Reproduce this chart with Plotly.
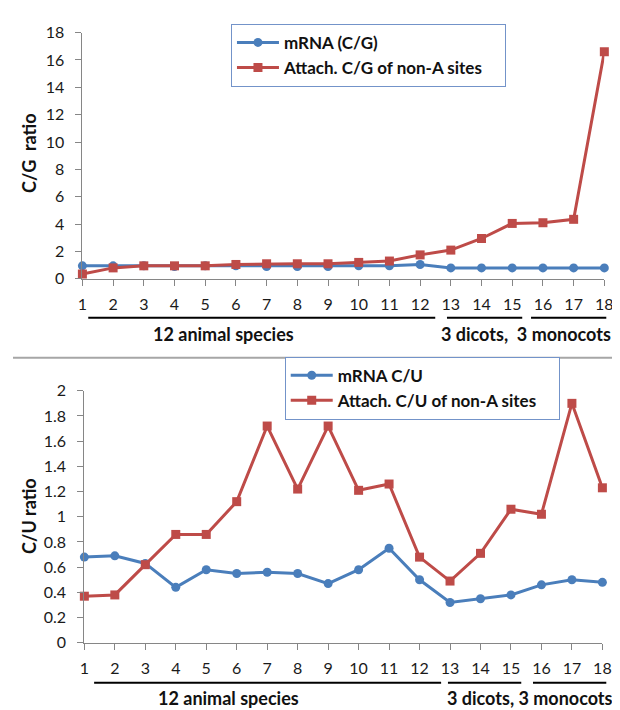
import plotly.graph_objects as go

# ---------------- data ----------------
species = list(range(1, 19))

mrna_cg = [0.95, 0.95, 0.95, 0.90, 0.95, 0.95, 0.90, 0.90, 0.90, 0.95, 0.95, 1.05,
           0.80, 0.80, 0.80, 0.80, 0.80, 0.80]
attach_cg = [0.35, 0.80, 0.95, 0.95, 0.95, 1.05, 1.10, 1.10, 1.10, 1.20, 1.30, 1.75,
             2.10, 2.95, 4.05, 4.10, 4.35, 16.60]

mrna_cu = [0.68, 0.69, 0.63, 0.44, 0.58, 0.55, 0.56, 0.55, 0.47, 0.58, 0.75, 0.50,
           0.32, 0.35, 0.38, 0.46, 0.50, 0.48]
attach_cu = [0.37, 0.38, 0.62, 0.86, 0.86, 1.12, 1.72, 1.22, 1.72, 1.21, 1.26, 0.68,
             0.49, 0.71, 1.06, 1.02, 1.90, 1.23]

cg_ticks = [0, 2, 4, 6, 8, 10, 12, 14, 16, 18]
cu_ticks = [0, 0.2, 0.4, 0.6, 0.8, 1.0, 1.2, 1.4, 1.6, 1.8, 2.0]
cu_ticktext = ["0", "0.2", "0.4", "0.6", "0.8", "1", "1.2", "1.4", "1.6", "1.8", "2"]

series_names = ["mRNA (C/G)", "Attach. C/G of non-A sites", "mRNA C/U", "Attach. C/U of non-A sites"]
group_labels = ["12 animal species", "3 dicots,  3 monocots", "3 dicots, 3 monocots"]

# ---------------- styling ----------------
W, H = 620, 710
BLUE = "#4A7EBB"
RED = "#BE4B48"
AXIS = "#868686"
FONT = "Lato"
PAD = "\u00a0" * 4  # right padding inside the legend box


def px(x):
    return x / W


def py(y):
    return 1 - y / H


fig = go.Figure()

fig.add_trace(go.Scatter(x=species, y=mrna_cg, mode="lines+markers", name=series_names[0] + PAD,
                         line=dict(color=BLUE, width=3), marker=dict(symbol="circle", size=9, color=BLUE),
                         xaxis="x", yaxis="y", legend="legend", legendgroup="a", cliponaxis=False))
fig.add_trace(go.Scatter(x=species, y=attach_cg, mode="lines+markers", name=series_names[1] + PAD,
                         line=dict(color=RED, width=3), marker=dict(symbol="square", size=9, color=RED),
                         xaxis="x", yaxis="y", legend="legend", legendgroup="b", cliponaxis=False))
fig.add_trace(go.Scatter(x=species, y=mrna_cu, mode="lines+markers", name=series_names[2] + PAD,
                         line=dict(color=BLUE, width=3), marker=dict(symbol="circle", size=9, color=BLUE),
                         xaxis="x2", yaxis="y2", legend="legend2", legendgroup="c", cliponaxis=False))
fig.add_trace(go.Scatter(x=species, y=attach_cu, mode="lines+markers", name=series_names[3] + PAD,
                         line=dict(color=RED, width=3), marker=dict(symbol="square", size=9, color=RED),
                         xaxis="x2", yaxis="y2", legend="legend2", legendgroup="d", cliponaxis=False))

xcommon = dict(range=[1, 18], tickmode="array", tickvals=species, showline=True, linecolor=AXIS,
               linewidth=1, ticks="outside", ticklen=6, tickcolor=AXIS, showgrid=False, zeroline=False,
               tickfont=dict(family=FONT, size=16, color="#1a1a1a"), ticklabelstandoff=5, fixedrange=True)
ycommon = dict(showline=True, linecolor=AXIS, linewidth=1, ticks="outside", ticklen=6, tickcolor=AXIS,
               showgrid=False, zeroline=False, tickfont=dict(family=FONT, size=16, color="#1a1a1a"),
               ticklabelstandoff=8, fixedrange=True)

legcommon = dict(xanchor="left", yanchor="top", bgcolor="white", bordercolor="#7393C9", borderwidth=1,
                 font=dict(family=FONT, size=17, color="#111111", weight="bold"), tracegroupgap=0,
                 itemwidth=42, itemclick=False, itemdoubleclick=False)

fig.update_layout(
    width=W, height=H, margin=dict(l=0, r=0, t=0, b=0),
    paper_bgcolor="white", plot_bgcolor="white",
    xaxis=dict(domain=[px(71), px(605)], anchor="y", **xcommon),
    yaxis=dict(domain=[py(268), py(15)], anchor="x", range=[0, 18], tickvals=cg_ticks, **ycommon),
    xaxis2=dict(domain=[px(73), px(603)], anchor="y2", **xcommon),
    yaxis2=dict(domain=[py(642), py(383)], anchor="x2", range=[0, 2], tickvals=cu_ticks,
                ticktext=cu_ticktext, **ycommon),
    legend=dict(x=px(223), y=py(6), **legcommon),
    legend2=dict(x=px(278), y=py(348), **legcommon),
    showlegend=True,
)

# divider between the two panels
fig.add_shape(type="line", xref="paper", yref="paper", x0=0, x1=1, y0=py(349), y1=py(349),
              line=dict(color="#A6A6A6", width=2))

# group underlines
top_lines = [(77, 432), (444, 521), (530, 607)]
bot_lines = [(83, 438), (445, 520), (532, 607)]
for (a, b) in top_lines:
    fig.add_shape(type="line", xref="paper", yref="paper", x0=px(a), x1=px(b), y0=py(308), y1=py(308),
                  line=dict(color="black", width=2))
for (a, b) in bot_lines:
    fig.add_shape(type="line", xref="paper", yref="paper", x0=px(a), x1=px(b), y0=py(683), y1=py(683),
                  line=dict(color="black", width=2))

afont = dict(family=FONT, size=18, color="#111111", weight="bold")
fig.add_annotation(text=group_labels[0], xref="paper", yref="paper", x=px(215), y=py(325),
                   showarrow=False, font=afont, xanchor="center", yanchor="middle")
fig.add_annotation(text=group_labels[1], xref="paper", yref="paper", x=px(525), y=py(325),
                   showarrow=False, font=afont, xanchor="center", yanchor="middle")
fig.add_annotation(text=group_labels[0], xref="paper", yref="paper", x=px(220), y=py(699),
                   showarrow=False, font=afont, xanchor="center", yanchor="middle")
fig.add_annotation(text=group_labels[2], xref="paper", yref="paper", x=px(529), y=py(699),
                   showarrow=False, font=afont, xanchor="center", yanchor="middle")

# y-axis titles
fig.add_annotation(text="C/G  ratio", xref="paper", yref="paper", x=px(17), y=py(139),
                   showarrow=False, font=afont, textangle=-90, xanchor="center", yanchor="middle")
fig.add_annotation(text="C/U ratio", xref="paper", yref="paper", x=px(17), y=py(512),
                   showarrow=False, font=afont, textangle=-90, xanchor="center", yanchor="middle")

fig.write_html("out.html")
